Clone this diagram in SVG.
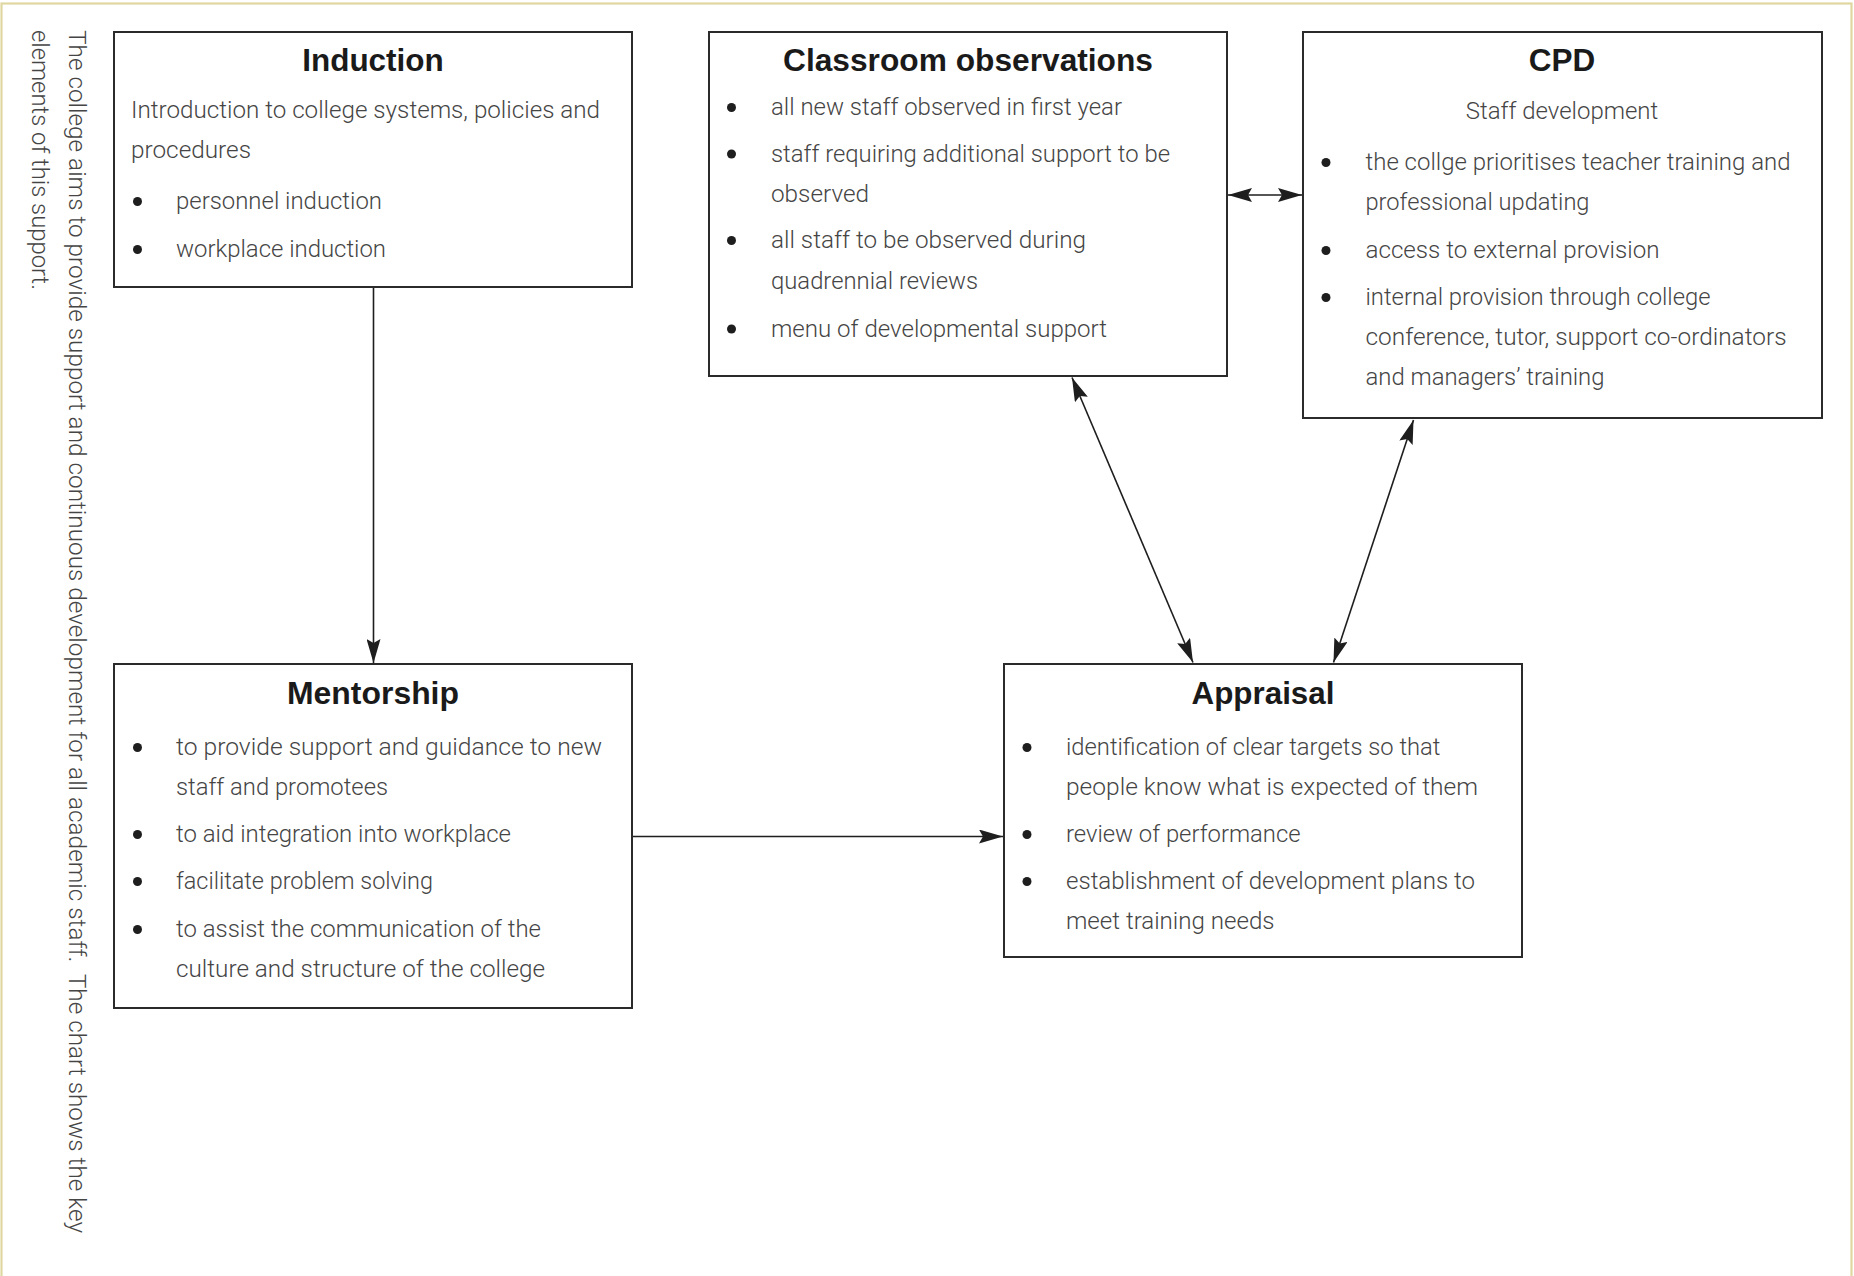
<svg xmlns="http://www.w3.org/2000/svg" width="1854" height="1276" viewBox="0 0 1854 1276">
<style>
.box{fill:#fff;stroke:#2b2b2b;stroke-width:2}
.title{font-family:"Liberation Sans",Arial,sans-serif;font-weight:bold;font-size:31px;fill:#1a1a1a;text-anchor:middle}
.t{font-family:Roboto,"Liberation Sans",sans-serif;font-weight:300;font-size:23.5px;fill:#454545}
.c{text-anchor:middle}
.b{fill:#1e1e1e}
.conn{stroke:#1e1e1e;stroke-width:1.6;fill:none}
</style>
<defs>
<marker id="ah" viewBox="0 0 24 14" refX="24" refY="7" markerWidth="24" markerHeight="14" markerUnits="userSpaceOnUse" orient="auto-start-reverse">
<path d="M0,0 L24,7 L0,14 L4,7 z" fill="#1e1e1e"/>
</marker>
</defs>
<rect x="1.5" y="3.5" width="1850" height="1320" fill="#fff" stroke="#e0d7a0" stroke-width="2.2"/>
<g id="side-note">
<text class="t" xml:space="preserve" transform="translate(68.5,30) rotate(90)" textLength="1203" lengthAdjust="spacingAndGlyphs">The college aims to provide support and continuous development for all academic staff.  The chart shows the key</text>
<text class="t" transform="translate(31.5,30) rotate(90)" textLength="260" lengthAdjust="spacingAndGlyphs">elements of this support.</text>
</g>
<g id="connectors">
<line class="conn" x1="373.5" y1="288" x2="373.5" y2="663" marker-end="url(#ah)"/>
<line class="conn" x1="633" y1="836.5" x2="1003" y2="836.5" marker-end="url(#ah)"/>
<line class="conn" x1="1228" y1="195" x2="1302" y2="195" marker-start="url(#ah)" marker-end="url(#ah)"/>
<line class="conn" x1="1072" y1="377.5" x2="1193" y2="662.5" marker-start="url(#ah)" marker-end="url(#ah)"/>
<line class="conn" x1="1413.5" y1="420" x2="1333.5" y2="662.5" marker-start="url(#ah)" marker-end="url(#ah)"/>
</g>
<g id="induction">
<rect class="box" x="114" y="32" width="518" height="255"/>
<text class="title" x="373" y="71" textLength="141.5" lengthAdjust="spacingAndGlyphs">Induction</text>
<text class="t" x="131" y="118" textLength="469" lengthAdjust="spacingAndGlyphs">Introduction to college systems, policies and</text>
<text class="t" x="131" y="158" textLength="120" lengthAdjust="spacingAndGlyphs">procedures</text>
<circle class="b" cx="137.5" cy="201.5" r="4.5"/>
<text class="t" x="176" y="209" textLength="206" lengthAdjust="spacingAndGlyphs">personnel induction</text>
<circle class="b" cx="137.5" cy="249.5" r="4.5"/>
<text class="t" x="176" y="257" textLength="210" lengthAdjust="spacingAndGlyphs">workplace induction</text>
</g>
<g id="classroom-observations">
<rect class="box" x="709" y="32" width="518" height="344"/>
<text class="title" x="968" y="71" textLength="370" lengthAdjust="spacingAndGlyphs">Classroom observations</text>
<circle class="b" cx="731.5" cy="107.5" r="4.5"/>
<text class="t" x="771" y="115" textLength="351" lengthAdjust="spacingAndGlyphs">all new staff observed in first year</text>
<circle class="b" cx="731.5" cy="154" r="4.5"/>
<text class="t" x="771" y="161.5" textLength="399" lengthAdjust="spacingAndGlyphs">staff requiring additional support to be</text>
<text class="t" x="771" y="201.5" textLength="98" lengthAdjust="spacingAndGlyphs">observed</text>
<circle class="b" cx="731.5" cy="240.5" r="4.5"/>
<text class="t" x="771" y="248" textLength="315" lengthAdjust="spacingAndGlyphs">all staff to be observed during</text>
<text class="t" x="771" y="289" textLength="207" lengthAdjust="spacingAndGlyphs">quadrennial reviews</text>
<circle class="b" cx="731.5" cy="329" r="4.5"/>
<text class="t" x="771" y="336.5" textLength="336" lengthAdjust="spacingAndGlyphs">menu of developmental support</text>
</g>
<g id="cpd">
<rect class="box" x="1303" y="32" width="519" height="386"/>
<text class="title" x="1562" y="71" textLength="66.5" lengthAdjust="spacingAndGlyphs">CPD</text>
<text class="t c" x="1562" y="119" textLength="192.5" lengthAdjust="spacingAndGlyphs">Staff development</text>
<circle class="b" cx="1326" cy="162.5" r="4.5"/>
<text class="t" x="1365.5" y="170" textLength="425" lengthAdjust="spacingAndGlyphs">the collge prioritises teacher training and</text>
<text class="t" x="1365.5" y="210" textLength="224" lengthAdjust="spacingAndGlyphs">professional updating</text>
<circle class="b" cx="1326" cy="250.5" r="4.5"/>
<text class="t" x="1365.5" y="258" textLength="294" lengthAdjust="spacingAndGlyphs">access to external provision</text>
<circle class="b" cx="1326" cy="297.5" r="4.5"/>
<text class="t" x="1365.5" y="305" textLength="345" lengthAdjust="spacingAndGlyphs">internal provision through college</text>
<text class="t" x="1365.5" y="345" textLength="421" lengthAdjust="spacingAndGlyphs">conference, tutor, support co-ordinators</text>
<text class="t" x="1365.5" y="385" textLength="239" lengthAdjust="spacingAndGlyphs">and managers’ training</text>
</g>
<g id="mentorship">
<rect class="box" x="114" y="664" width="518" height="344"/>
<text class="title" x="373" y="703.5" textLength="172" lengthAdjust="spacingAndGlyphs">Mentorship</text>
<circle class="b" cx="137.5" cy="747.5" r="4.5"/>
<text class="t" x="176" y="755" textLength="426" lengthAdjust="spacingAndGlyphs">to provide support and guidance to new</text>
<text class="t" x="176" y="795" textLength="212" lengthAdjust="spacingAndGlyphs">staff and promotees</text>
<circle class="b" cx="137.5" cy="834.5" r="4.5"/>
<text class="t" x="176" y="842" textLength="335" lengthAdjust="spacingAndGlyphs">to aid integration into workplace</text>
<circle class="b" cx="137.5" cy="881.5" r="4.5"/>
<text class="t" x="176" y="889" textLength="257" lengthAdjust="spacingAndGlyphs">facilitate problem solving</text>
<circle class="b" cx="137.5" cy="929.5" r="4.5"/>
<text class="t" x="176" y="937" textLength="365" lengthAdjust="spacingAndGlyphs">to assist the communication of the</text>
<text class="t" x="176" y="977" textLength="369" lengthAdjust="spacingAndGlyphs">culture and structure of the college</text>
</g>
<g id="appraisal">
<rect class="box" x="1004" y="664" width="518" height="293"/>
<text class="title" x="1263" y="703.5" textLength="143" lengthAdjust="spacingAndGlyphs">Appraisal</text>
<circle class="b" cx="1027" cy="747.5" r="4.5"/>
<text class="t" x="1066" y="755" textLength="374.5" lengthAdjust="spacingAndGlyphs">identification of clear targets so that</text>
<text class="t" x="1066" y="795" textLength="412" lengthAdjust="spacingAndGlyphs">people know what is expected of them</text>
<circle class="b" cx="1027" cy="834.5" r="4.5"/>
<text class="t" x="1066" y="842" textLength="234.5" lengthAdjust="spacingAndGlyphs">review of performance</text>
<circle class="b" cx="1027" cy="881.5" r="4.5"/>
<text class="t" x="1066" y="889" textLength="409" lengthAdjust="spacingAndGlyphs">establishment of development plans to</text>
<text class="t" x="1066" y="929" textLength="208.5" lengthAdjust="spacingAndGlyphs">meet training needs</text>
</g>
</svg>
